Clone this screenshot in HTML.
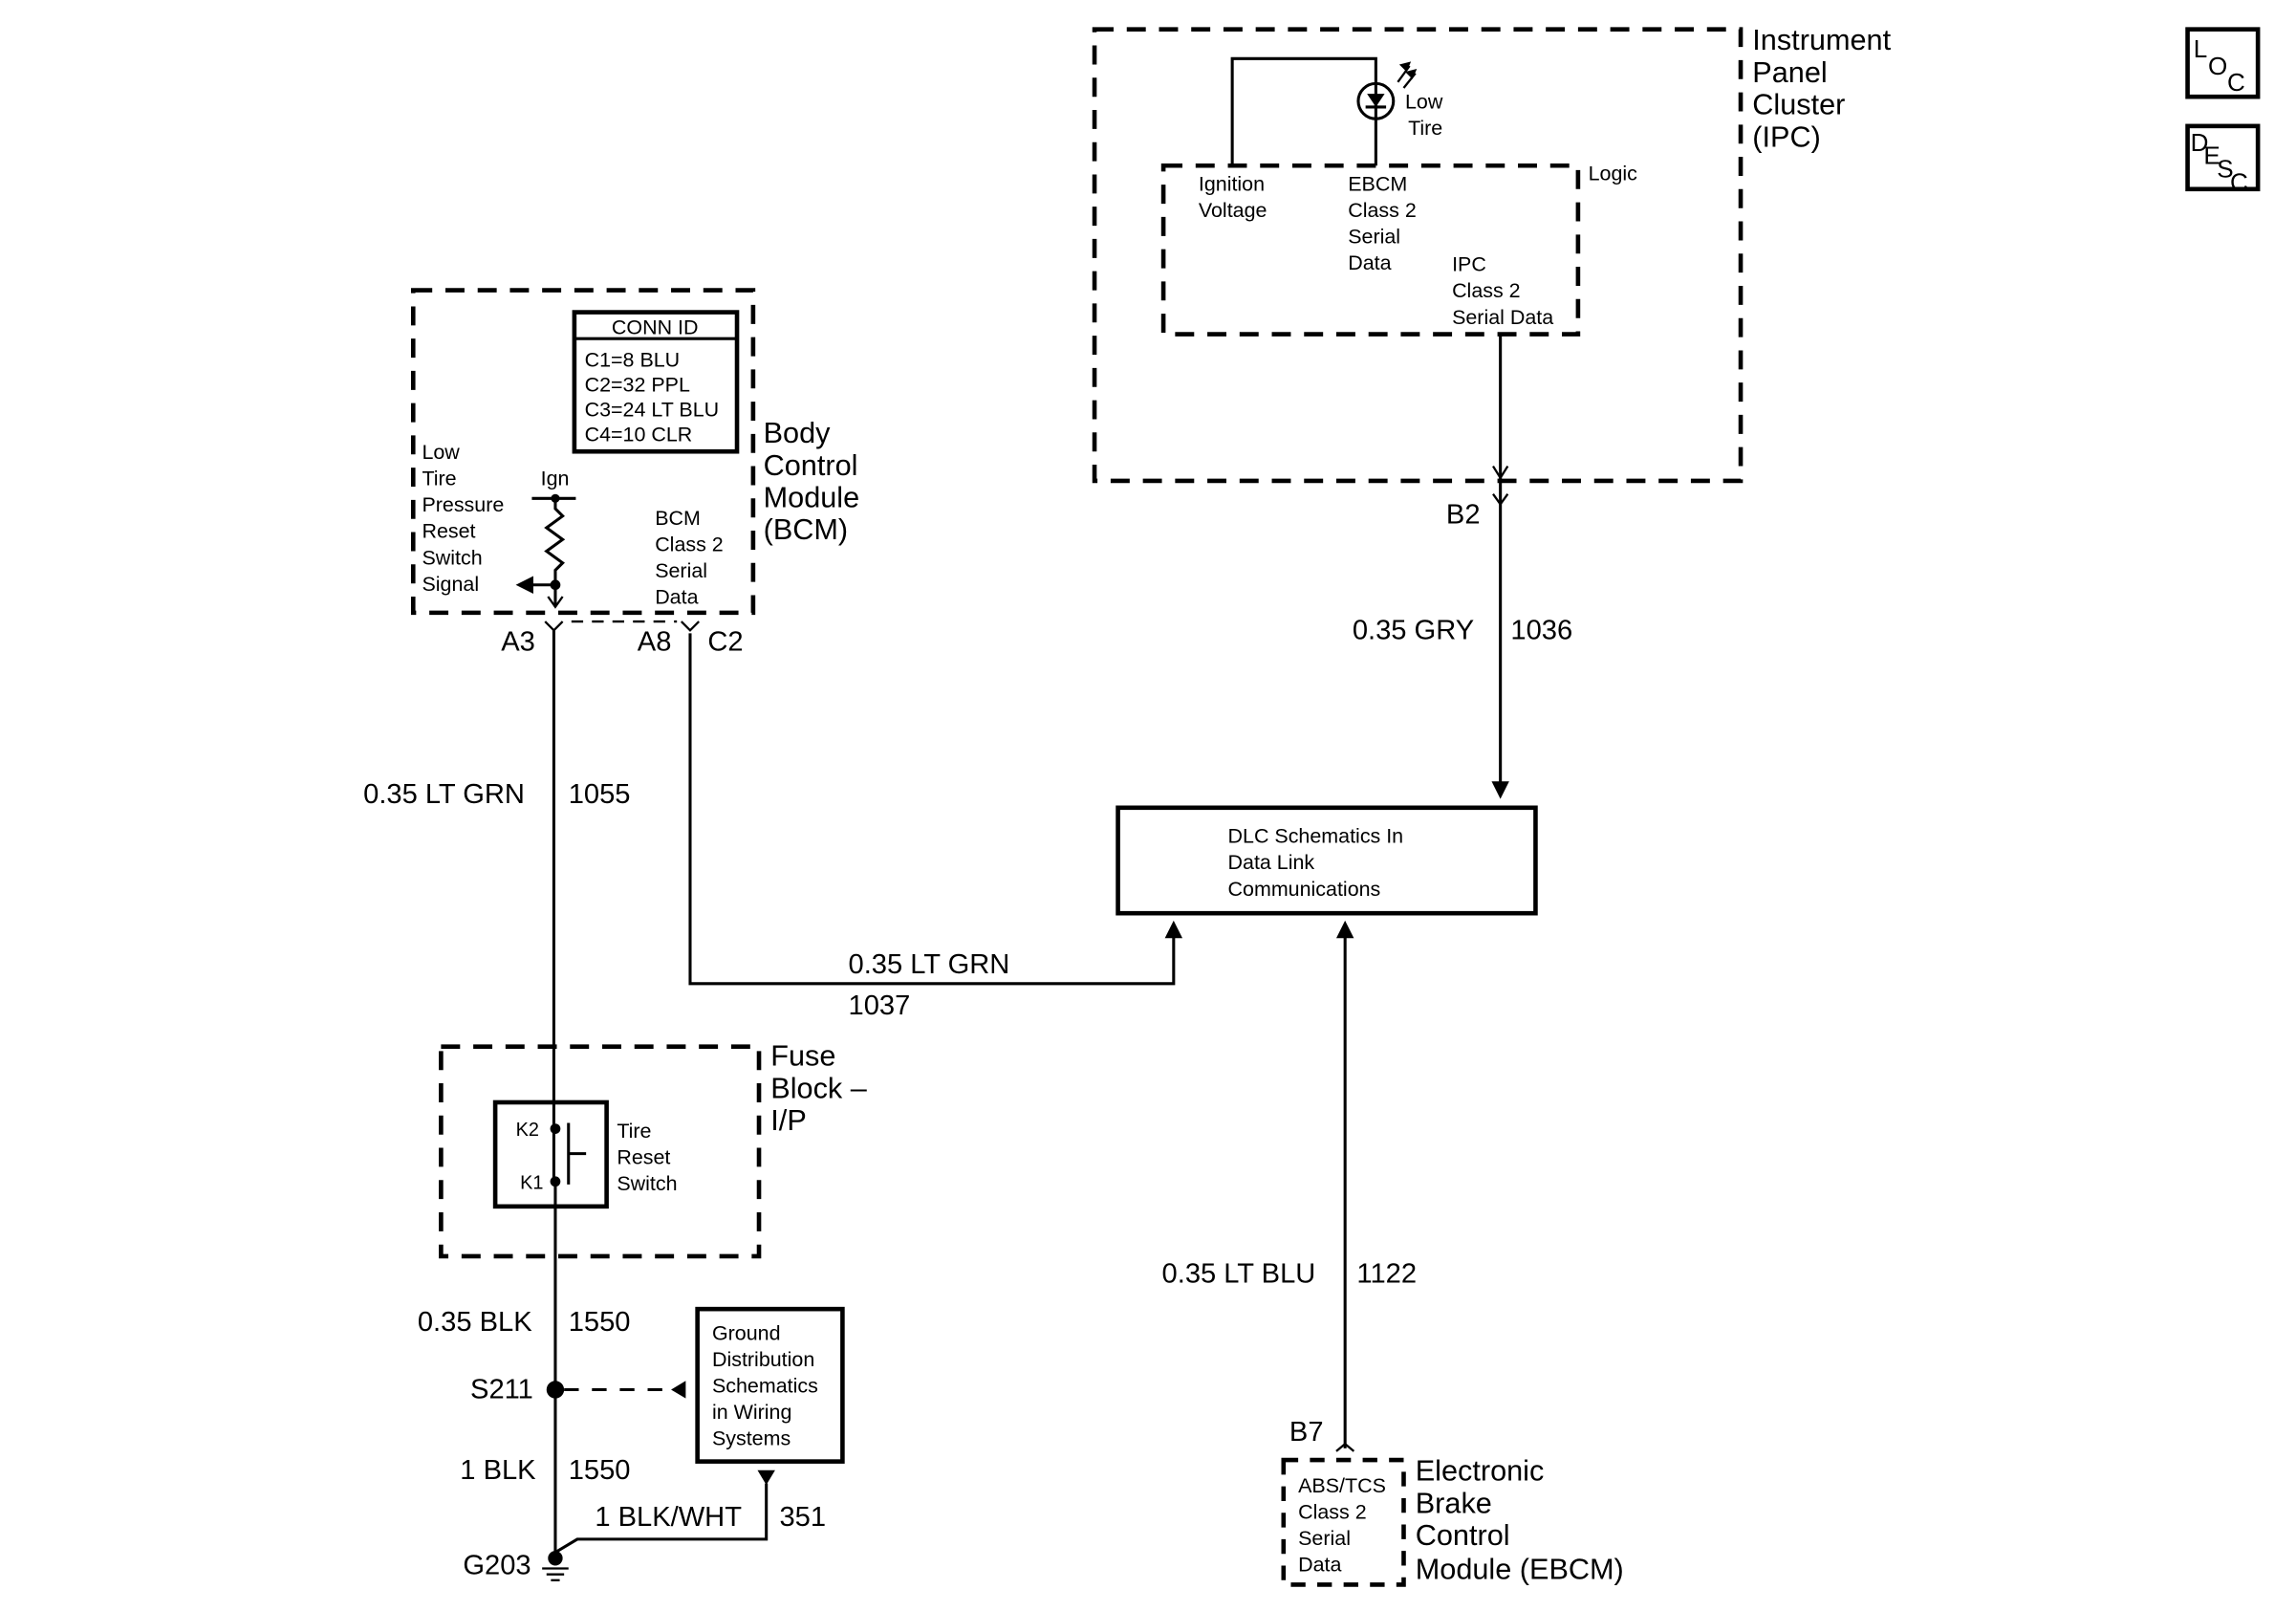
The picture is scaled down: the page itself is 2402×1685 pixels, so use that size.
<!DOCTYPE html>
<html><head><meta charset="utf-8"><style>
html,body{margin:0;padding:0;background:#fff;}
svg{display:block;}
text{font-family:"Liberation Sans",Arial,sans-serif;fill:#000;}
.s{font-size:14px;}
.m{font-size:19px;}
.l{font-size:20px;}
.t{font-size:17px;}
</style></head><body>
<svg width="2402" height="1685" viewBox="0 0 1567 1099" preserveAspectRatio="none" xmlns="http://www.w3.org/2000/svg">
<g fill="none" stroke="#000">
<rect x="747" y="20" width="441" height="308" stroke-width="3" stroke-dasharray="13,9"/>
<rect x="794" y="113" width="283" height="115" stroke-width="3" stroke-dasharray="13,9"/>
<polyline points="841,113 841,40 939,40 939,113" stroke-width="2"/>
<circle cx="939" cy="69" r="12" fill="#fff" stroke-width="2"/>
<line x1="939" y1="57" x2="939" y2="81" stroke-width="2"/>
<line x1="932" y1="73" x2="946" y2="73" stroke-width="2"/>
<line x1="954" y1="56" x2="962" y2="45" stroke-width="1.5"/>
<line x1="958" y1="60" x2="966" y2="50" stroke-width="1.5"/>
<line x1="1024" y1="228" x2="1024" y2="540" stroke-width="2"/>
<polyline points="1019,318 1024,326 1029,318" stroke-width="1.5"/>
<polyline points="1019,337 1024,344 1029,337" stroke-width="1.5"/>
<rect x="763" y="551" width="285" height="72" stroke-width="3"/>
<polyline points="471,432 471,671 801,671 801,636" stroke-width="2"/>
<line x1="918" y1="636" x2="918" y2="988" stroke-width="2"/>
<polyline points="912,990 918,985 924,990" stroke-width="1.5"/>
<rect x="876" y="996" width="82" height="85" stroke-width="3" stroke-dasharray="10,8"/>
<rect x="282" y="198" width="232" height="220" stroke-width="3" stroke-dasharray="13,9"/>
<rect x="392" y="213" width="111" height="95" stroke-width="3"/>
<line x1="392" y1="231" x2="503" y2="231" stroke-width="2"/>
<line x1="363" y1="340" x2="393" y2="340" stroke-width="2"/>
<polyline points="379,340 379,347 384,352 373,360 384,368 373,376 384,384 379,389 379,414" stroke-width="2"/>
<line x1="360" y1="399" x2="379" y2="399" stroke-width="2"/>
<polyline points="374,407 379,414 384,407" stroke-width="1.5"/>
<line x1="390" y1="424" x2="462" y2="424" stroke-width="1.5" stroke-dasharray="8,6"/>
<polyline points="372,424 378,430 384,424" stroke-width="1.5"/>
<polyline points="465,424 471,430 477,424" stroke-width="1.5"/>
<line x1="378" y1="430" x2="378" y2="806" stroke-width="2"/>
<rect x="301" y="714" width="217" height="143" stroke-width="3" stroke-dasharray="13,9"/>
<rect x="338" y="752" width="76" height="71" stroke-width="3"/>
<line x1="388" y1="766" x2="388" y2="808" stroke-width="2"/>
<line x1="388" y1="787" x2="400" y2="787" stroke-width="2"/>
<line x1="379" y1="806" x2="379" y2="1060" stroke-width="2"/>
<line x1="385" y1="948" x2="460" y2="948" stroke-width="2" stroke-dasharray="10,9"/>
<rect x="476" y="893" width="99" height="104" stroke-width="3"/>
<polyline points="523,1012 523,1050 394,1050 379,1059" stroke-width="2"/>
<line x1="370" y1="1070" x2="388" y2="1070" stroke-width="1.5"/>
<line x1="373" y1="1074" x2="385" y2="1074" stroke-width="1.5"/>
<line x1="376" y1="1078" x2="382" y2="1078" stroke-width="1.5"/>
<rect x="1493" y="20" width="48" height="46" stroke-width="3"/>
<rect x="1493" y="86" width="48" height="43" stroke-width="3"/>
</g>
<g fill="#000">
<polygon points="933,64 945,64 939,73"/>
<polygon points="1018,533 1030,533 1024,545"/>
<polygon points="795,640 807,640 801,628"/>
<polygon points="912,640 924,640 918,628"/>
<polygon points="364,393 364,405 352,399"/>
<circle cx="379" cy="340" r="3"/>
<circle cx="379" cy="399" r="3.5"/>
<circle cx="379" cy="770" r="3.5"/>
<circle cx="379" cy="806" r="3.5"/>
<circle cx="379" cy="948" r="6"/>
<circle cx="379" cy="1063" r="5"/>
<polygon points="468,942 468,954 458,948"/>
<polygon points="517,1003 529,1003 523,1013"/>
<polygon points="955,44 963,42 960,49"/>
<polygon points="959,49 967,47 964,54"/>
</g>
<text class="l" x="1196" y="34">Instrument</text>
<text class="l" x="1196" y="56">Panel</text>
<text class="l" x="1196" y="78">Cluster</text>
<text class="l" x="1196" y="100">(IPC)</text>
<text class="s" x="1084" y="123">Logic</text>
<text class="s" x="959" y="74">Low</text>
<text class="s" x="961" y="92">Tire</text>
<text class="s" x="818" y="130">Ignition</text>
<text class="s" x="818" y="148">Voltage</text>
<text class="s" x="920" y="130">EBCM</text>
<text class="s" x="920" y="148">Class 2</text>
<text class="s" x="920" y="166">Serial</text>
<text class="s" x="920" y="184">Data</text>
<text class="s" x="991" y="185">IPC</text>
<text class="s" x="991" y="203">Class 2</text>
<text class="s" x="991" y="221">Serial Data</text>
<text class="m" x="987" y="357">B2</text>
<text class="m" x="923" y="436">0.35 GRY</text>
<text class="m" x="1031" y="436">1036</text>
<text class="s" x="838" y="575">DLC Schematics In</text>
<text class="s" x="838" y="593">Data Link</text>
<text class="s" x="838" y="611">Communications</text>
<text class="m" x="579" y="664">0.35 LT GRN</text>
<text class="m" x="579" y="692">1037</text>
<text class="m" x="793" y="875">0.35 LT BLU</text>
<text class="m" x="926" y="875">1122</text>
<text class="m" x="880" y="983">B7</text>
<text class="s" x="886" y="1018">ABS/TCS</text>
<text class="s" x="886" y="1036">Class 2</text>
<text class="s" x="886" y="1054">Serial</text>
<text class="s" x="886" y="1072">Data</text>
<text class="l" x="966" y="1010">Electronic</text>
<text class="l" x="966" y="1032">Brake</text>
<text class="l" x="966" y="1054">Control</text>
<text class="l" x="966" y="1077">Module (EBCM)</text>
<text class="s" x="447" y="228" text-anchor="middle">CONN ID</text>
<text class="s" x="399" y="250">C1=8 BLU</text>
<text class="s" x="399" y="267">C2=32 PPL</text>
<text class="s" x="399" y="284">C3=24 LT BLU</text>
<text class="s" x="399" y="301">C4=10 CLR</text>
<text class="l" x="521" y="302">Body</text>
<text class="l" x="521" y="324">Control</text>
<text class="l" x="521" y="346">Module</text>
<text class="l" x="521" y="368">(BCM)</text>
<text class="s" x="288" y="313">Low</text>
<text class="s" x="288" y="331">Tire</text>
<text class="s" x="288" y="349">Pressure</text>
<text class="s" x="288" y="367">Reset</text>
<text class="s" x="288" y="385">Switch</text>
<text class="s" x="288" y="403">Signal</text>
<text class="s" x="369" y="331">Ign</text>
<text class="s" x="447" y="358">BCM</text>
<text class="s" x="447" y="376">Class 2</text>
<text class="s" x="447" y="394">Serial</text>
<text class="s" x="447" y="412">Data</text>
<text class="m" x="342" y="444">A3</text>
<text class="m" x="435" y="444">A8</text>
<text class="m" x="483" y="444">C2</text>
<text class="m" x="248" y="548">0.35 LT GRN</text>
<text class="m" x="388" y="548">1055</text>
<text class="l" x="526" y="727">Fuse</text>
<text class="l" x="526" y="749">Block –</text>
<text class="l" x="526" y="771">I/P</text>
<text x="352" y="775" style="font-size:13px">K2</text>
<text x="355" y="811" style="font-size:13px">K1</text>
<text class="s" x="421" y="776">Tire</text>
<text class="s" x="421" y="794">Reset</text>
<text class="s" x="421" y="812">Switch</text>
<text class="m" x="285" y="908">0.35 BLK</text>
<text class="m" x="388" y="908">1550</text>
<text class="m" x="321" y="954">S211</text>
<text class="s" x="486" y="914">Ground</text>
<text class="s" x="486" y="932">Distribution</text>
<text class="s" x="486" y="950">Schematics</text>
<text class="s" x="486" y="968">in Wiring</text>
<text class="s" x="486" y="986">Systems</text>
<text class="m" x="314" y="1009">1 BLK</text>
<text class="m" x="388" y="1009">1550</text>
<text class="m" x="406" y="1041">1 BLK/WHT</text>
<text class="m" x="532" y="1041">351</text>
<text class="m" x="316" y="1074">G203</text>
<text class="t" x="1497" y="39">L</text>
<text class="t" x="1507" y="51">O</text>
<text class="t" x="1520" y="62">C</text>
<text class="t" x="1495" y="103">D</text>
<text class="t" x="1504" y="112">E</text>
<text class="t" x="1513" y="121">S</text>
<text class="t" x="1522" y="130">C</text>
</svg>
</body></html>
